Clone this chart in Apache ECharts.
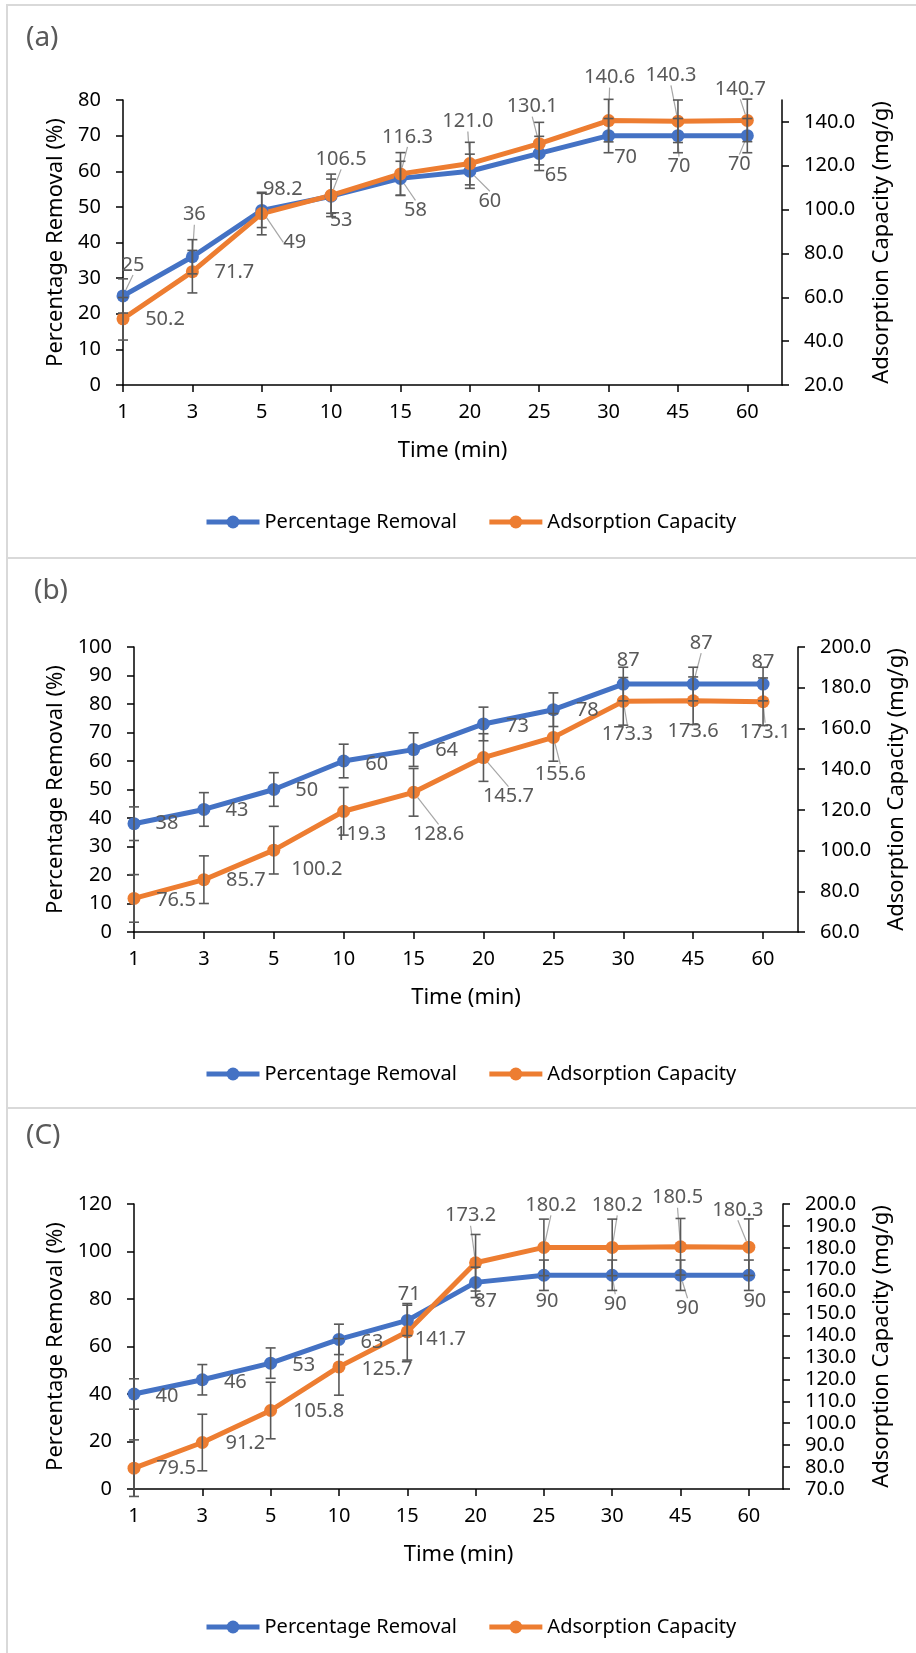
<!DOCTYPE html>
<html>
<head>
<meta charset="utf-8">
<script src="https://cdn.jsdelivr.net/npm/echarts@6/dist/echarts.min.js"></script>
<style>
  body { margin: 0; background: #fff; }
  #page { position: relative; width: 916px; height: 1653px; overflow: hidden; }
  .chart { position: absolute; left: 0; width: 916px; }
  .hline { position: absolute; left: 6px; right: 0; height: 2px; background: #d9d9d9; }
  .vline { position: absolute; left: 6px; top: 4px; bottom: 0; width: 2px; background: #d9d9d9; }
</style>
</head>
<body>
<div id="page">
  <div class="hline" style="top:4px"></div>
  <div class="hline" style="top:557px"></div>
  <div class="hline" style="top:1107px"></div>
  <div class="vline"></div>
  <div class="chart" id="chartA" style="top:0;height:558px"></div>
  <div class="chart" id="chartB" style="top:558px;height:550px"></div>
  <div class="chart" id="chartC" style="top:1108px;height:545px"></div>
</div>
<script>
// categories
const times = ['1', '3', '5', '10', '15', '20', '25', '30', '45', '60'];

// (a)
const removalA = [25, 36, 49, 53, 58, 60, 65, 70, 70, 70];
const capacityA = [50.2, 71.7, 98.2, 106.5, 116.3, 121.0, 130.1, 140.6, 140.3, 140.7];
const leftTicksA = [0, 10, 20, 30, 40, 50, 60, 70, 80];
const rightTicksA = [20, 40, 60, 80, 100, 120, 140];

// (b)
const removalB = [38, 43, 50, 60, 64, 73, 78, 87, 87, 87];
const capacityB = [76.5, 85.7, 100.2, 119.3, 128.6, 145.7, 155.6, 173.3, 173.6, 173.1];
const leftTicksB = [0, 10, 20, 30, 40, 50, 60, 70, 80, 90, 100];
const rightTicksB = [60, 80, 100, 120, 140, 160, 180, 200];

// (c)
const removalC = [40, 46, 53, 63, 71, 87, 90, 90, 90, 90];
const capacityC = [79.5, 91.2, 105.8, 125.7, 141.7, 173.2, 180.2, 180.2, 180.5, 180.3];
const leftTicksC = [0, 20, 40, 60, 80, 100, 120];
const rightTicksC = [70, 80, 90, 100, 110, 120, 130, 140, 150, 160, 170, 180, 190, 200];

// error bar half length, one per series
const errA = [4.8, 9.7];
const errB = [5.9, 11.7];
const errC = [6.4, 12.9];

// where the data labels were dragged to, px from the marker
const shiftA = [
  [[10, -31], [2, -42], [33, 32], [10, 24], [15, 32], [20, 30], [17, 22], [17, 22], [1, 31], [-8, 29]],
  [[42, 1], [42, 1], [21, -24], [10, -36], [7, -37], [-2, -42], [-7, -37], [1, -43], [-7, -46], [-7, -31]]
];
const shiftB = [
  [[33, 0], [33, 1], [33, 1], [33, 3], [33, 1], [34, 2], [34, 1], [5, -24], [8, -41], [0, -22]],
  [[42, 2], [42, 1], [43, 19], [17, 23], [25, 42], [25, 39], [7, 37], [4, 33], [0, 31], [2, 31]]
];
const shiftC = [
  [[33, 2], [33, 3], [33, 2], [33, 3], [2, -26], [10, 19], [3, 26], [3, 29], [7, 33], [6, 26]],
  [[42, 0], [43, 1], [48, 1], [48, 2], [33, 7], [-5, -47], [7, -42], [5, -42], [-3, -49], [-11, -37]]
];

const BLUE = '#4472c4';
const ORANGE = '#ed7d31';
const FONT = 'Noto Sans';

const errorSeries = (values, err, axis) => ({
  type: 'custom',
  yAxisIndex: axis,
  silent: true,
  z: 5,
  data: values.map((v, i) => [i, v - err, v + err]),
  encode: { x: 0, y: [1, 2] },
  renderItem: (params, api) => {
    const x = api.value(0);
    const top = api.coord([x, api.value(2)]);
    const bot = api.coord([x, api.value(1)]);
    const w = 5;
    const style = { stroke: '#595959', lineWidth: 1.6 };
    return {
      type: 'group',
      children: [
        { type: 'line', shape: { x1: top[0], y1: top[1], x2: bot[0], y2: bot[1] }, style },
        { type: 'line', shape: { x1: top[0] - w, y1: top[1], x2: top[0] + w, y2: top[1] }, style },
        { type: 'line', shape: { x1: bot[0] - w, y1: bot[1], x2: bot[0] + w, y2: bot[1] }, style },
      ],
    };
  },
});

const lineSeries = (name, values, color, axis, shift, fmt) => ({
  name,
  type: 'line',
  yAxisIndex: axis,
  // leader lines only for the labels that were pulled well away
  data: values.map((v, i) => ({
    value: [i, v],
    labelLine: { show: Math.abs(shift[i][1]) >= 29 },
  })),
  symbol: 'circle',
  symbolSize: 13,
  lineStyle: { width: 5, color },
  itemStyle: { color },
  z: 3,
  label: {
    show: true,
    position: 'inside',
    color: '#595959',
    fontSize: 20,
    fontFamily: FONT,
    formatter: (p) => fmt(p.value[1]),
  },
  labelLayout: (p) => ({ dx: shift[p.dataIndex][0], dy: shift[p.dataIndex][1] }),
  labelLine: { show: false, lineStyle: { color: '#a6a6a6', width: 1.2 } },
});

const axisCommon = {
  axisLine: { show: true, onZero: false, lineStyle: { color: '#000', width: 1.5 } },
  axisTick: { show: true, inside: false, length: 7, lineStyle: { color: '#000', width: 1.5 } },
  splitLine: { show: false },
  nameTextStyle: { color: '#000', fontSize: 22, fontFamily: FONT },
};

const makePanel = (el, cfg) => {
  const chart = echarts.init(document.getElementById(el));
  const idx = times.map((t, i) => i);
  chart.setOption({
    animation: false,
    textStyle: { fontFamily: FONT },
    graphic: [
      {
        type: 'text',
        left: cfg.titlePos[0],
        top: cfg.titlePos[1],
        style: { text: cfg.title, fontSize: 28, fill: '#595959', fontFamily: FONT },
      },
    ],
    grid: cfg.grid,
    legend: {
      data: ['Percentage Removal', 'Adsorption Capacity'],
      left: 199,
      top: cfg.legendTop,
      itemWidth: 53,
      itemHeight: 16,
      itemGap: 30,
      lineStyle: { width: 5 },
      textStyle: { color: '#000', fontSize: 20, fontFamily: FONT },
    },
    xAxis: {
      ...axisCommon,
      type: 'value',
      min: 0,
      max: 9.5,
      name: 'Time (min)',
      nameLocation: 'middle',
      nameGap: 55,
      axisTick: { ...axisCommon.axisTick, customValues: idx },
      axisLabel: {
        customValues: idx,
        formatter: (v) => times[v],
        color: '#000',
        fontSize: 20,
        margin: 17,
      },
    },
    yAxis: [
      {
        ...axisCommon,
        type: 'value',
        position: 'left',
        min: cfg.leftTicks[0],
        max: cfg.leftTicks[cfg.leftTicks.length - 1],
        name: 'Percentage Removal (%)',
        nameLocation: 'middle',
        nameRotate: 90,
        nameGap: cfg.nameGap[0],
        axisTick: { ...axisCommon.axisTick, customValues: cfg.leftTicks },
        axisLabel: { customValues: cfg.leftTicks, color: '#000', fontSize: 20, margin: 22 },
      },
      {
        ...axisCommon,
        type: 'value',
        position: 'right',
        min: cfg.rightTicks[0],
        max: cfg.rightMax,
        name: 'Adsorption Capacity (mg/g)',
        nameLocation: 'middle',
        nameRotate: 90,
        nameGap: cfg.nameGap[1],
        axisTick: { ...axisCommon.axisTick, customValues: cfg.rightTicks },
        axisLabel: {
          customValues: cfg.rightTicks,
          formatter: (v) => v.toFixed(1),
          color: '#000',
          fontSize: 20,
          margin: 22,
        },
      },
    ],
    series: [
      lineSeries('Percentage Removal', cfg.removal, BLUE, 0, cfg.shift[0], (v) => String(v)),
      lineSeries('Adsorption Capacity', cfg.capacity, ORANGE, 1, cfg.shift[1], (v) => v.toFixed(1)),
      errorSeries(cfg.removal, cfg.err[0], 0),
      errorSeries(cfg.capacity, cfg.err[1], 1),
    ],
  });
  return chart;
};

makePanel('chartA', {
  title: '(a)',
  titlePos: [26, 24],
  grid: { left: 123, right: 134, top: 100, bottom: 173 },
  legendTop: 507,
  nameGap: [53, 89],
  removal: removalA,
  capacity: capacityA,
  leftTicks: leftTicksA,
  rightTicks: rightTicksA,
  rightMax: 150,
  err: errA,
  shift: shiftA,
});

makePanel('chartB', {
  title: '(b)',
  titlePos: [34, 19],
  grid: { left: 134, right: 116, top: 89, bottom: 176 },
  legendTop: 501,
  nameGap: [64, 88],
  removal: removalB,
  capacity: capacityB,
  leftTicks: leftTicksB,
  rightTicks: rightTicksB,
  rightMax: 200,
  err: errB,
  shift: shiftB,
});

makePanel('chartC', {
  title: '(C)',
  titlePos: [26, 14],
  grid: { left: 134, right: 133, top: 96, bottom: 164 },
  legendTop: 504,
  nameGap: [64, 88],
  removal: removalC,
  capacity: capacityC,
  leftTicks: leftTicksC,
  rightTicks: rightTicksC,
  rightMax: 200,
  err: errC,
  shift: shiftC,
});
</script>
</body>
</html>
